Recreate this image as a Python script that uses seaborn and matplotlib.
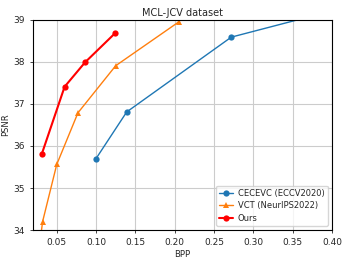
import matplotlib

matplotlib.use("Agg")
import matplotlib.pyplot as plt
import pandas as pd
import seaborn as sns

CECEVC_BPP = [0.100, 0.139, 0.272, 0.440]
CECEVC_PSNR = [35.70, 36.81, 38.59, 39.41]
VCT_BPP = [0.028, 0.032, 0.050, 0.077, 0.125, 0.205]
VCT_PSNR = [33.60, 34.20, 35.56, 36.79, 37.91, 38.95]
OURS_BPP = [0.031, 0.060, 0.086, 0.124]
OURS_PSNR = [35.81, 37.41, 37.99, 38.68]

SERIES = [
    ("CECEVC (ECCV2020)", CECEVC_BPP, CECEVC_PSNR, "#1f77b4", "o", 1.0),
    ("VCT (NeurIPS2022)", VCT_BPP, VCT_PSNR, "#ff7f0e", "^", 1.0),
    ("Ours", OURS_BPP, OURS_PSNR, "red", "o", 1.5),
]

sns.set_style("ticks")
plt.rcParams["font.family"] = ["DejaVu Sans"]

figure = plt.figure(figsize=(3.49, 2.62), dpi=100)
axis = figure.add_axes([0.095, 0.122, 0.856, 0.802])

for label, bpp, psnr, color, marker, width in SERIES:
    frame = pd.DataFrame({"bpp": bpp, "psnr": psnr})
    sns.lineplot(
        data=frame,
        x="bpp",
        y="psnr",
        sort=False,
        color=color,
        marker=marker,
        markersize=4.5,
        markeredgewidth=0,
        linewidth=width,
        label=label,
        ax=axis,
    )

axis.set_xlim(0.02, 0.40)
axis.set_ylim(34, 39)
axis.set_xticks([0.05, 0.10, 0.15, 0.20, 0.25, 0.30, 0.35, 0.40])
axis.set_yticks([34, 35, 36, 37, 38, 39])
axis.grid(True, color="#cccccc", linewidth=0.8)
axis.tick_params(labelsize=6.5, length=2.5, width=0.6)
for spine in axis.spines.values():
    spine.set_linewidth(0.8)
    spine.set_color("black")
axis.set_title("MCL-JCV dataset", fontsize=7, pad=3)
axis.set_xlabel("BPP", fontsize=6, labelpad=2)
axis.set_ylabel("PSNR", fontsize=6, labelpad=2)
axis.legend(loc="lower right", fontsize=6, frameon=True, handlelength=1.6,
            borderpad=0.4, labelspacing=0.4, handletextpad=0.6, fancybox=True)

figure.savefig("out.png", dpi=100)
